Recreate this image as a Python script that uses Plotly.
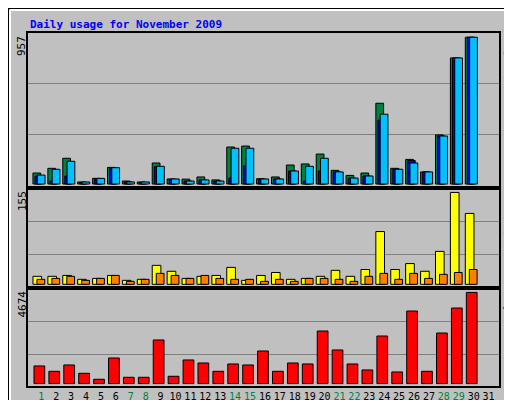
import plotly.graph_objects as go

days = list(range(1, 32))
weekend = [1, 7, 8, 14, 15, 21, 22, 28, 29]

hits = [70, 100, 164, 13, 36, 106, 19, 13, 134, 32, 31, 45, 26, 236, 242, 34,
        45, 121, 128, 191, 87, 55, 70, 515, 100, 157, 77, 313, 804, 936, None]
files = [50, 19, 51, 10, 30, 100, 13, 10, 110, 30, 19, 26, 19, 38, 115, 30,
         32, 83, 19, 83, 77, 38, 51, 408, 94, 150, 77, 306, 804, 936, None]
pages = [57, 94, 145, 13, 36, 104, 13, 13, 113, 32, 19, 26, 19, 228, 228, 32,
         32, 83, 113, 164, 77, 38, 51, 445, 94, 134, 77, 306, 804, 936, None]
visits = [13.5, 13.5, 15, 8.4, 10, 15, 6.7, 8.4, 32, 22, 10, 13.5, 15, 28.6, 6.7, 15,
          20, 8.4, 10, 13.5, 23.6, 13.5, 25, 89, 25, 35, 22, 55.6, 155, 119.6, None]
sites = [8.4, 10, 13.5, 6.7, 10, 15, 5, 8.4, 18.5, 15, 10, 15, 10, 8.4, 8.4, 5,
         8.4, 5, 10, 10, 8.4, 5, 13.5, 18.5, 8.4, 18.5, 10, 16.8, 20, 25, None]
kbytes = [905, 631, 956, 529, 222, 1314, 324, 324, 2236, 375, 1212, 1058, 631, 1007, 956, 1672,
          631, 1058, 1007, 2696, 1724, 1007, 700, 2440, 597, 3720, 631, 2594, 3874, 4674, None]

fig = go.Figure()

def bar(y, color, offset, width, ax):
    fig.add_trace(go.Bar(x=days, y=y, marker=dict(color=color, line=dict(color="black", width=1)),
                         offset=offset, width=width, xaxis="x" + ax, yaxis="y" + ax,
                         showlegend=False, hoverinfo="y"))

bar(hits, "#008040", -0.56, 0.52, "")
bar(files, "#0000ff", -0.42, 0.5, "")
bar(pages, "#00c0ff", -0.27, 0.52, "")
bar(visits, "#ffff00", -0.56, 0.58, "2")
bar(sites, "#ff8000", -0.29, 0.52, "2")
bar(kbytes, "#ff0000", -0.49, 0.72, "3")

xr = [0.108, 31.68]
dx = [20 / 512, 490.7 / 512]
ticktext = ['<span style="color:#008040">%d</span>' % d if d in weekend else str(d) for d in days]
axline = dict(showline=True, linecolor="black", linewidth=2, mirror=True, zeroline=False)

fig.update_layout(
    width=512, height=400, margin=dict(l=0, r=0, t=0, b=0),
    paper_bgcolor="#c0c0c0", plot_bgcolor="#c0c0c0", barmode="overlay",
    font=dict(family="DejaVu Sans Mono", size=11, color="black"),
    xaxis=dict(domain=dx, range=xr, anchor="y", showticklabels=False, ticks="", **axline),
    xaxis2=dict(domain=dx, range=xr, anchor="y2", showticklabels=False, ticks="", **axline),
    xaxis3=dict(domain=dx, range=xr, anchor="y3", tickvals=days, ticktext=ticktext,
                ticks="", tickangle=0, tickfont=dict(size=10), automargin=False, **axline),
    yaxis=dict(domain=[0.55, 0.9375], range=[-25.5, 963], tickvals=[313, 638],
               showticklabels=False, gridcolor="#808080", **axline),
    yaxis2=dict(domain=[0.3, 0.549], range=[-6.2, 161.8], tickvals=[50.6, 106],
                showticklabels=False, gridcolor="#808080", **axline),
    yaxis3=dict(domain=[0.056, 0.3], range=[-102, 4900], tickvals=[1505, 3195],
                showticklabels=False, gridcolor="#808080", **axline),
)

def ann(text, x, y, anchor_y="top", angle=-90, size=11, color="black", xanchor="center"):
    fig.add_annotation(text=text, x=x, y=y, xref="paper", yref="paper", showarrow=False,
                       textangle=angle, yanchor=anchor_y, xanchor=xanchor,
                       font=dict(size=size, color=color))

ann("<b>Daily usage for November 2009</b>", 20 / 512, 1 - 8 / 400, angle=0, color="#0000ff", xanchor="left")
ann("957", 14 / 512, 1 - 26 / 400)
ann("155", 14 / 512, 1 - 181 / 400)
ann("4674", 14 / 512, 1 - 281 / 400)
ann('<span style="color:#00c0ff">Pages</span> / <span style="color:#0000ff">Files</span>'
    ' / <span style="color:#008040">Hits</span>', 492 / 512, 1 - 27 / 400, angle=90, xanchor="left")
ann('<span style="color:#ff8000">Sites</span> / <span style="color:#ffff00">Visits</span>',
    492 / 512, 1 - 182 / 400, angle=90, xanchor="left")
ann("KBytes", 492 / 512, 1 - 282 / 400, angle=90, color="#ff0000", xanchor="left")

# window frame
fig.add_shape(type="rect", xref="paper", yref="paper", x0=0, y0=0, x1=1, y1=1,
              line=dict(color="black", width=2))
fig.add_shape(type="rect", xref="paper", yref="paper", x0=507 / 512, y0=2 / 400, x1=510 / 512, y1=1 - 3 / 400,
              line=dict(width=0), fillcolor="#808080")
fig.add_shape(type="rect", xref="paper", yref="paper", x0=3 / 512, y0=2 / 400, x1=510 / 512, y1=5 / 400,
              line=dict(width=0), fillcolor="#808080")
fig.add_shape(type="line", xref="paper", yref="paper", x0=2 / 512, y0=1 - 2 / 400, x1=507 / 512, y1=1 - 2 / 400,
              line=dict(color="white", width=2))
fig.add_shape(type="line", xref="paper", yref="paper", x0=2 / 512, y0=5 / 400, x1=2 / 512, y1=1 - 2 / 400,
              line=dict(color="white", width=2))

fig.write_html("out.html")
